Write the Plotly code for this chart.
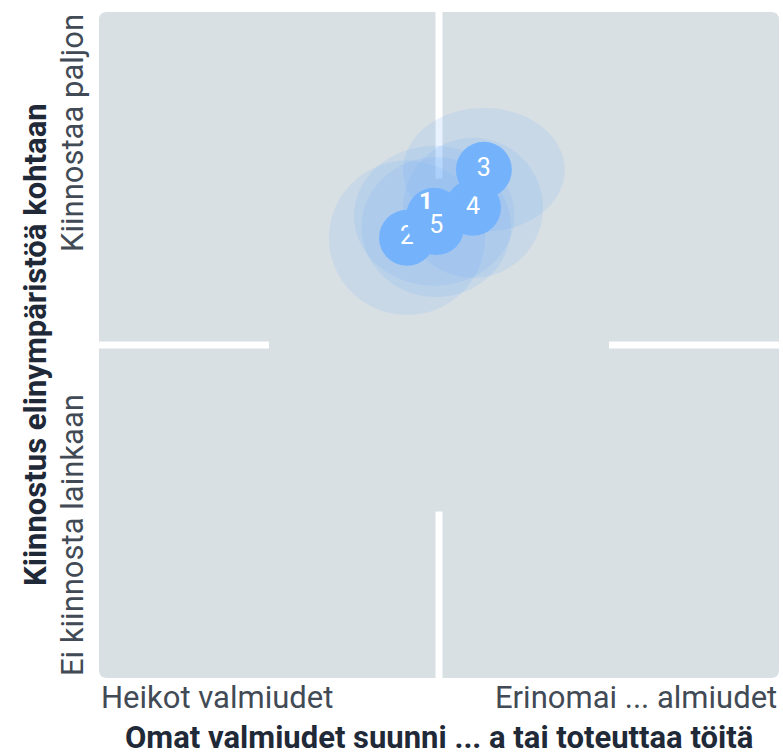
"""Nelikenttä: valmiudet vs. kiinnostus elinympäristöä kohtaan."""

import plotly.graph_objects as go

# Ryhmien numerot, keskiarvot ja hajonnat (0..1 asteikolla)
labels = ["1", "2", "3", "4", "5"]
x_mean = [0.493, 0.453, 0.566, 0.550, 0.496]
y_mean = [0.694, 0.661, 0.763, 0.706, 0.677]
x_spread = [0.118, 0.115, 0.119, 0.103, 0.110]
y_spread = [0.105, 0.116, 0.093, 0.105, 0.105]
draw_order = [1, 0, 4, 3, 2]

x_tick_labels = ["Heikot valmiudet", "Erinomai ... almiudet"]
y_tick_labels = ["Ei kiinnosta lainkaan", "Kiinnostaa paljon"]
x_title = "Omat valmiudet suunni ... a tai toteuttaa töitä"
y_title = "Kiinnostus elinympäristöä kohtaan"

W, H = 783, 756
M = {"l": 99, "r": 4, "t": 12, "b": 78}
PW = W - M["l"] - M["r"]
PH = H - M["t"] - M["b"]

BG = "#d9e0e4"
BUBBLE = "#74b3fc"
HALO = "rgba(116,179,252,0.17)"
FONT = "Roboto"
TICK_COLOR = "#414a55"
TITLE_COLOR = "#1f2937"


def rounded_rect(x0, x1, y0, y1, corner):
    """Suorakulmio, jossa yksi pyöristetty kulma (data-koordinaateissa)."""
    rx, ry = 8 / PW, 8 / PH
    if corner == "tl":
        return (f"M {x0},{y0} L {x0},{y1 - ry} Q {x0},{y1} {x0 + rx},{y1} "
                f"L {x1},{y1} L {x1},{y0} Z")
    if corner == "tr":
        return (f"M {x0},{y0} L {x0},{y1} L {x1 - rx},{y1} Q {x1},{y1} {x1},{y1 - ry} "
                f"L {x1},{y0} Z")
    if corner == "bl":
        return (f"M {x0},{y1} L {x1},{y1} L {x1},{y0} L {x0 + rx},{y0} "
                f"Q {x0},{y0} {x0},{y0 + ry} Z")
    return (f"M {x0},{y1} L {x1},{y1} L {x1},{y0 + ry} Q {x1},{y0} {x1 - rx},{y0} "
            f"L {x0},{y0} Z")


gx, gy = 3.5 / PW, 3.5 / PH
shapes = []
for corner, (xa, xb, ya, yb) in {
    "bl": (0, 0.5 - gx, 0, 0.5 - gy),
    "tl": (0, 0.5 - gx, 0.5 + gy, 1),
    "br": (0.5 + gx, 1, 0, 0.5 - gy),
    "tr": (0.5 + gx, 1, 0.5 + gy, 1),
}.items():
    shapes.append(dict(type="path", path=rounded_rect(xa, xb, ya, yb, corner),
                       fillcolor=BG, line={"width": 0}, layer="below"))

# keskialue ilman valkoisia viivoja
shapes.append(dict(type="rect", x0=0.25, x1=0.75, y0=0.25, y1=0.75,
                   fillcolor=BG, line={"width": 0}, layer="below"))

# hajontaa kuvaavat läpikuultavat ellipsit
for i in range(len(labels)):
    shapes.append(dict(
        type="circle",
        x0=x_mean[i] - x_spread[i], x1=x_mean[i] + x_spread[i],
        y0=y_mean[i] - y_spread[i], y1=y_mean[i] + y_spread[i],
        fillcolor=HALO, line={"width": 0}, layer="below",
    ))

fig = go.Figure()
annotations = []
for i in draw_order:
    # ryhmän 1 numero on siirretty päällekkäisyyden vuoksi
    inline = labels[i] != "1"
    fig.add_trace(go.Scatter(
        x=[x_mean[i]], y=[y_mean[i]],
        mode="markers+text" if inline else "markers",
        text=[labels[i]],
        textposition="middle center",
        textfont={"family": FONT, "size": 25, "color": "white"},
        marker={"size": 56, "color": BUBBLE, "line": {"width": 0}},
        hoverinfo="skip",
    ))
    if not inline:
        annotations.append(dict(
            x=x_mean[i], y=y_mean[i], xref="x", yref="y",
            xshift=-8, yshift=15, text=f"<b>{labels[i]}</b>", showarrow=False,
            font={"family": FONT, "size": 24, "color": "white"},
        ))

tick_font = {"family": FONT, "size": 31, "color": TICK_COLOR}
title_font = {"family": FONT, "size": 31, "color": TITLE_COLOR}
annotations += [
    dict(x=0, y=0, xref="paper", yref="paper", xanchor="left", yanchor="middle",
         yshift=-19, text=x_tick_labels[0], showarrow=False, font=tick_font),
    dict(x=1, y=0, xref="paper", yref="paper", xanchor="right", yanchor="middle",
         yshift=-19, text=x_tick_labels[1], showarrow=False, font=tick_font),
    dict(x=0, y=0, xref="paper", yref="paper", xanchor="center", yanchor="bottom",
         xshift=-27, text=y_tick_labels[0], showarrow=False, textangle=-90,
         font=tick_font),
    dict(x=0, y=1, xref="paper", yref="paper", xanchor="center", yanchor="top",
         xshift=-27, text=y_tick_labels[1], showarrow=False, textangle=-90,
         font=tick_font),
    dict(x=0.5, y=0, xref="paper", yref="paper", xanchor="center", yanchor="middle",
         yshift=-59, text=f"<b>{x_title}</b>", showarrow=False, font=title_font),
    dict(x=0, y=0.5, xref="paper", yref="paper", xanchor="center", yanchor="middle",
         xshift=-64, text=f"<b>{y_title}</b>", showarrow=False, textangle=-90,
         font=title_font),
]

fig.update_layout(
    width=W, height=H,
    margin=M,
    showlegend=False,
    paper_bgcolor="white",
    plot_bgcolor="white",
    xaxis={"range": [0, 1], "showgrid": False, "zeroline": False,
           "showticklabels": False, "fixedrange": True},
    yaxis={"range": [0, 1], "showgrid": False, "zeroline": False,
           "showticklabels": False, "fixedrange": True},
    shapes=shapes,
    annotations=annotations,
)

# sivun oletusreunus pois, jotta kuva täyttää ikkunan
fig.write_html(
    "out.html",
    config={"displayModeBar": False},
    post_script="document.body.style.margin='0';",
)
